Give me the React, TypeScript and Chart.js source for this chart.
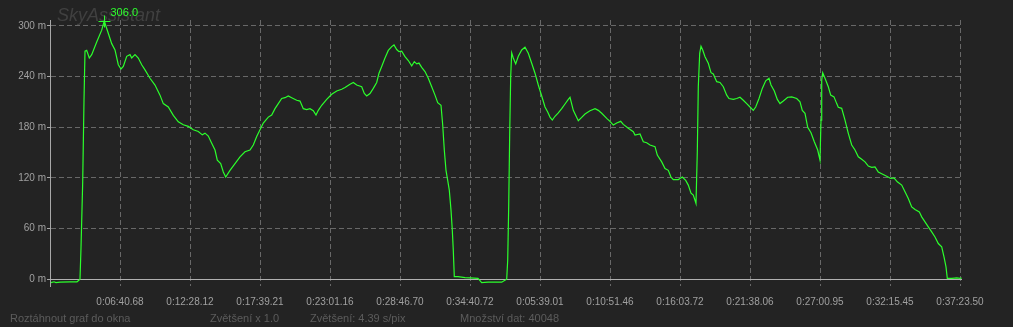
import React, { useEffect, useRef } from "react";
import { Chart, registerables } from "chart.js";

Chart.register(...registerables);

// sample position along the record (display units) and altitude in metres
const samplePos: number[] = [
  1, 4, 6, 10, 20, 27, 28, 30, 31, 32.7, 34, 35, 36.7, 39.3, 41.7, 46.7, 51.7, 54.3, 56.7, 61.7,
  65, 68.3, 71, 73.3, 76.7, 80, 81.7, 85, 88.3, 91.7, 95, 100, 105, 110, 113.3, 118.3, 123.3, 128.3,
  133.3, 138.3, 143.3, 148.3, 152.3, 155, 158.3, 161.7, 165, 167.3, 170.7, 173.3, 175.7, 180, 185,
  190, 195, 200, 203.3, 206.7, 210, 213.3, 218.3, 221.7, 225, 228.3, 231.7, 235, 238.3, 241.7, 246.7,
  250, 253.3, 256.7, 260, 263.3, 266, 268.3, 271.7, 276.7, 281.7, 286.7, 291.7, 295, 300, 303.3,
  306.7, 311.7, 314.3, 316.7, 320, 323.3, 326.7, 329, 331.7, 335, 338.3, 341.7, 344, 346.7, 349,
  351.7, 355, 358.3, 361.7, 364.3, 366.7, 369, 371.7, 375, 378.3, 381.7, 385, 387.7, 391, 392.7,
  394.3, 396, 397.7, 399.3, 401, 402.3, 403.3, 404.3, 408, 415, 420, 428, 431.7, 438, 446, 451.7,
  456.7, 457.7, 458.7, 459.7, 460.7, 461.7, 463.3, 465.7, 468.3, 471.7, 475, 478.3, 481.7, 485,
  488.3, 491.7, 495, 497.7, 500, 502.3, 505, 508.3, 511.7, 515, 518.3, 520, 523.3, 528.3, 531.7,
  535, 540, 545, 548.3, 551.7, 556.7, 560, 563.3, 566.7, 570.7, 573.3, 578.3, 583.3, 585, 590,
  593.3, 596.7, 600, 605, 607.3, 611.7, 615, 618.3, 621, 623.3, 628.3, 632.3, 635.7, 638.3, 641,
  643.3, 646, 647.3, 648.3, 649.7, 651, 652.7, 655, 658.3, 661, 663.3, 666.7, 670, 673.3, 676.7,
  679, 683.3, 686.7, 690, 693.3, 696.7, 700, 703.3, 705.7, 709, 712.3, 715.7, 719, 721, 724.3,
  727.3, 730, 733.3, 737.7, 741.7, 746.7, 750, 752.3, 755, 757.7, 761, 764.3, 767.7, 770, 771,
  771.7, 772.7, 775, 778.3, 780.7, 784, 786.7, 788.3, 791.7, 795, 798.3, 801.7, 805, 808.3, 811.7,
  815, 818.3, 821.7, 825, 828.3, 831.7, 836.7, 840.7, 844, 847.3, 851.7, 855, 858.3, 861.7, 865,
  869.3, 871.7, 875, 878.3, 881.7, 885, 888.3, 891.7, 894, 896, 897.3, 902, 906.7, 910, 911.7,
];

const altitude: number[] = [
  -4, -3, -4, -3.5, -3, -3, -2, 0, 37, 115, 212, 270, 271, 262, 266, 281, 295, 306, 297, 279,
  271.5, 254, 249, 252, 264, 266, 262, 266, 262, 254, 248, 238, 230, 218, 208, 204, 194, 186.5,
  183, 181, 177, 175, 171, 173, 169.6, 161, 153, 141, 137, 127, 121, 129, 137,
  145, 151, 153, 159, 169, 177, 185, 192, 194.5, 202, 208, 214, 215, 217, 215, 212,
  211, 202, 201, 202, 199.6, 194.5, 200, 206, 213, 219, 223, 225, 227, 231, 233,
  230, 228, 220, 217, 220, 226, 233, 244, 252, 262, 271, 275.5, 277.5, 272, 269.5,
  270, 263.6, 259, 252.6, 257.7, 255, 256, 251, 246, 238, 228, 218, 209, 206, 182.6,
  153, 129, 117, 105.5, 82, 58, 34, 3, 3, 2, 1.6, 1, -4, -3.5, -3.5, -3.5,
  0, 22.5, 86, 173, 240, 268, 262, 255, 264, 271.5, 274.7, 267.6, 255.8, 244,
  230, 217, 204, 198, 192, 188.5, 193, 197, 202, 207.5, 213, 215.5, 200, 187.7, 191.7,
  195.7, 199.6, 202, 200, 196.5, 190.5, 187, 182.6, 185, 187, 183.4, 178.7, 174.7, 170.8, 172,
  162.8, 161.6, 159, 157, 147, 139, 131, 129, 121, 118, 118, 121, 117, 111.5, 102,
  99.6, 89.7, 151, 228, 267.6, 276, 271.5, 263.6, 255.8, 244.6, 243, 234, 233, 228, 218,
  214, 213, 214, 215.5, 212, 208, 204, 200, 204, 214, 226, 235, 238, 230, 223,
  213, 208, 211, 215.5, 216, 214, 210, 200, 196.5, 180, 173.5, 162.8, 153, 141, 188.5,
  236, 244.6, 238, 228, 218, 216, 208, 203.6, 202.4, 188.5, 172.8, 159, 153, 145, 142,
  139, 134, 132.5, 133, 127, 125, 122, 119.4, 120, 115.4, 111.5, 103.5, 95.7, 85.7, 82.6,
  79.8, 73.9, 68, 62, 56, 50, 42.3, 38.3, 26.4, 14.6, 1, 1, 1.6, 1, 1.5,
];

const xTickPos: number[] = [70, 140, 210, 280, 350, 420, 490, 560, 630, 700, 770, 840, 910];
const xTickLabels: string[] = [
  "0:06:40.68", "0:12:28.12", "0:17:39.21", "0:23:01.16", "0:28:46.70", "0:34:40.72",
  "0:05:39.01", "0:10:51.46", "0:16:03.72", "0:21:38.06", "0:27:00.95", "0:32:15.45", "0:37:23.50",
];
const yTickValues: number[] = [0, 60, 120, 180, 240, 300];

const watermark = "SkyAssistant";
const statusTexts: { text: string; x: number }[] = [
  { text: "Roztáhnout graf do okna", x: 10 },
  { text: "Zvětšení x 1.0", x: 210 },
  { text: "Zvětšení: 4.39 s/pix", x: 310 },
  { text: "Množství dat: 40048", x: 460 },
];

const FONT = "'Liberation Sans', Arial, sans-serif";
const LINE = "#2cff2c";

const decorPlugin = {
  id: "decor",
  beforeDraw(chart: any) {
    const { ctx, width, height } = chart;
    ctx.save();
    ctx.fillStyle = "#232323";
    ctx.fillRect(0, 0, width, height);
    ctx.font = `italic 18px ${FONT}`;
    ctx.fillStyle = "#404040";
    ctx.textBaseline = "alphabetic";
    ctx.textAlign = "left";
    ctx.fillText(watermark, 57, 21);
    ctx.font = `11px ${FONT}`;
    ctx.fillStyle = "#5c5c5c";
    ctx.textBaseline = "middle";
    for (const s of statusTexts) ctx.fillText(s.text, s.x, 319);
    ctx.restore();
  },
  beforeDatasetsDraw(chart: any) {
    const { ctx, chartArea, scales } = chart;
    const y0 = Math.round(scales.y.getPixelForValue(0)) + 0.5;
    ctx.save();
    ctx.strokeStyle = "#b0b0b0";
    ctx.lineWidth = 1;
    ctx.beginPath();
    ctx.moveTo(chartArea.left, y0);
    ctx.lineTo(chartArea.right, y0);
    ctx.stroke();
    ctx.restore();
  },
  afterDatasetsDraw(chart: any) {
    const { ctx, scales } = chart;
    let mi = 0;
    for (let i = 1; i < altitude.length; i++) if (altitude[i] > altitude[mi]) mi = i;
    const px = Math.round(scales.x.getPixelForValue(samplePos[mi])) + 0.5;
    const py = Math.round(scales.y.getPixelForValue(altitude[mi])) + 0.5;
    ctx.save();
    ctx.strokeStyle = LINE;
    ctx.lineWidth = 1;
    ctx.beginPath();
    ctx.moveTo(px - 6, py);
    ctx.lineTo(px + 6, py);
    ctx.moveTo(px, py - 6);
    ctx.lineTo(px, py + 6);
    ctx.stroke();
    ctx.fillStyle = LINE;
    ctx.font = `11px ${FONT}`;
    ctx.textAlign = "left";
    ctx.textBaseline = "alphabetic";
    ctx.fillText(altitude[mi].toFixed(1), px + 6, py - 6);
    ctx.restore();
  },
};

export default function App() {
  const ref = useRef<HTMLCanvasElement | null>(null);

  useEffect(() => {
    if (!ref.current) return;
    const points = samplePos.map((x, i) => ({ x, y: altitude[i] }));
    const chart = new Chart(ref.current, {
      type: "line",
      data: {
        datasets: [
          {
            label: "Výška",
            data: points,
            borderColor: LINE,
            borderWidth: 1.2,
            pointRadius: 0,
            tension: 0,
            fill: false,
          },
        ],
      },
      options: {
        responsive: false,
        animation: false,
        layout: { padding: { top: 20, right: 51, left: 0, bottom: 0 } },
        plugins: { legend: { display: false }, tooltip: { enabled: false } },
        scales: {
          x: {
            type: "linear",
            min: 0,
            max: 912,
            afterFit: (s: any) => {
              s.height = 41;
            },
            afterBuildTicks: (s: any) => {
              s.ticks = xTickPos.map((v) => ({ value: v }));
            },
            ticks: {
              autoSkip: false,
              maxRotation: 0,
              padding: 10,
              color: "#a0a0a0",
              font: { family: FONT, size: 10 },
              callback: (v: any) => {
                const i = xTickPos.indexOf(Number(v));
                return i >= 0 ? xTickLabels[i] : "";
              },
            },
            grid: { color: "#686868", lineWidth: 1, drawTicks: false },
            border: { display: false, dash: [5, 3] },
          },
          y: {
            type: "linear",
            min: -8,
            max: 307,
            afterFit: (s: any) => {
              s.width = 50;
            },
            afterBuildTicks: (s: any) => {
              s.ticks = yTickValues.map((v) => ({ value: v }));
            },
            ticks: {
              padding: 1,
              color: "#a0a0a0",
              font: { family: FONT, size: 10 },
              callback: (v: any) => `${v} m`,
            },
            grid: {
              color: (c: any) => (c.tick && c.tick.value === 0 ? "rgba(0,0,0,0)" : "#686868"),
              lineWidth: 1,
              drawTicks: true,
              tickLength: 3,
              tickColor: "#a8a8a8",
              tickBorderDash: [],
            },
            border: { display: true, color: "#a8a8a8", width: 1, dash: [5, 3] },
          },
        },
      },
      plugins: [decorPlugin],
    });
    return () => chart.destroy();
  }, []);

  return (
    <div style={{ position: "fixed", left: 0, top: 0, width: 1013, height: 327, background: "#232323" }}>
      <canvas ref={ref} width={1013} height={327} style={{ display: "block", width: 1013, height: 327 }} />
    </div>
  );
}
